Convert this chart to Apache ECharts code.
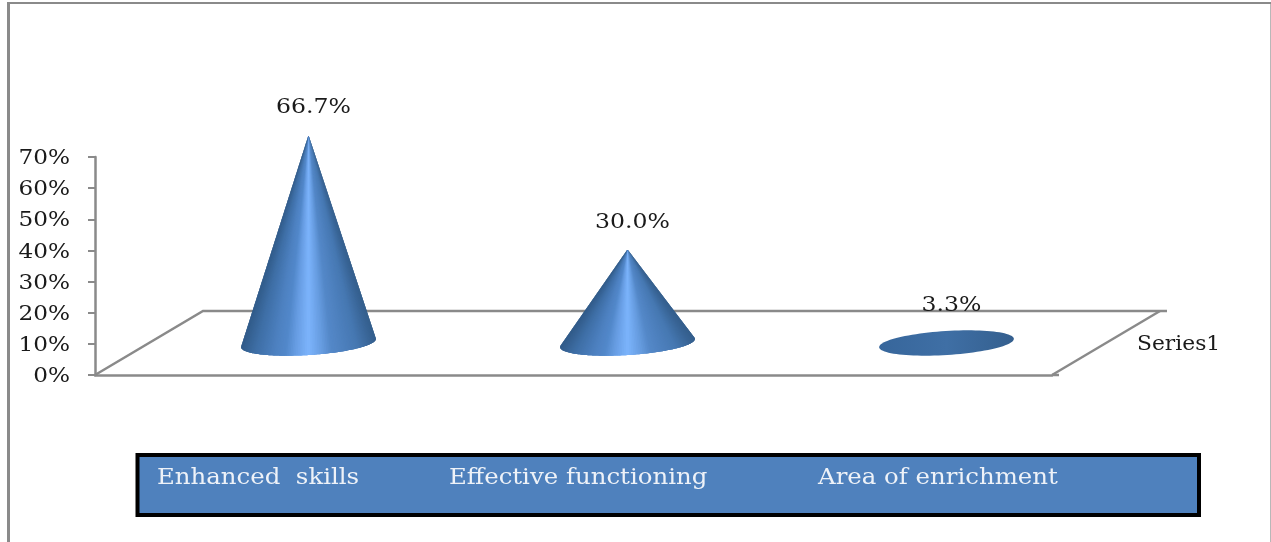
<!DOCTYPE html>
<html>
<head>
<meta charset="utf-8">
<style>html,body{margin:0;padding:0;background:#fff}#chart{width:1271px;height:542px}</style>
<script src="https://cdn.jsdelivr.net/npm/echarts@6/dist/echarts.min.js"></script>
</head>
<body>
<div id="chart"></div>
<script>
// Survey outcome shares, drawn as 3-D style cones on a perspective floor.
const categories = ['Enhanced  skills', 'Effective functioning', 'Area of enrichment'];
const shares = [66.7, 30.0, 3.3];
const yTicks = [0, 10, 20, 30, 40, 50, 60, 70];
const seriesName = 'Series1';

const SERIF = '"DejaVu Serif", serif';
const AXIS_GREY = '#8a8a8a';
const INK = '#1a1a1a';
const FLOOR_DX = 108, FLOOR_DY = -64;   // depth vector of the floor
const BASE_RX = 67.5, BASE_RY = 12, BASE_TILT = -3.6 * Math.PI / 180;
const ramp = [
  [0.00, [50, 92, 138]], [0.10, [62, 110, 165]], [0.26, [78, 130, 194]],
  [0.33, [82, 136, 202]], [0.40, [102, 156, 226]], [0.50, [124, 180, 252]],
  [0.60, [102, 156, 224]], [0.67, [84, 136, 200]], [0.86, [70, 120, 178]],
  [1.00, [52, 94, 140]]
];

function shade(t) {
  for (let i = 1; i < ramp.length; i++) {
    if (t <= ramp[i][0]) {
      const a = ramp[i - 1], b = ramp[i], k = (t - a[0]) / (b[0] - a[0]);
      return 'rgb(' + a[1].map((v, j) => Math.round(v + (b[1][j] - v) * k)).join(',') + ')';
    }
  }
  return 'rgb(' + ramp[ramp.length - 1][1].join(',') + ')';
}

function renderCone(params, api) {
  const value = api.value(1);
  const origin = api.coord([api.value(0), 0]);
  const top = api.coord([api.value(0), value]);
  const cx = origin[0] + FLOOR_DX / 2, cy = origin[1] + FLOOR_DY / 2;
  const ax = cx, ay = cy - (origin[1] - top[1]);
  const cos = Math.cos(BASE_TILT), sin = Math.sin(BASE_TILT);
  const onBase = (th) => {
    const x = BASE_RX * Math.cos(th), y = BASE_RY * Math.sin(th);
    return [cx + x * cos - y * sin, cy + x * sin + y * cos];
  };
  // apex expressed in the ellipse's unit-circle frame
  const dx = ax - cx, dy = ay - cy;
  const u = (dx * cos + dy * sin) / BASE_RX, v = (-dx * sin + dy * cos) / BASE_RY;
  const dist = Math.hypot(u, v);
  const children = [];

  if (dist <= 1) {
    // cone too short to rise past its own base: only a disc is visible
    const pts = [];
    for (let i = 0; i < 96; i++) pts.push(onBase(i / 96 * Math.PI * 2));
    children.push({
      type: 'polygon', shape: { points: pts },
      style: { fill: { type: 'linear', x: 0, y: 0, x2: 1, y2: 0, colorStops: [
        { offset: 0, color: '#37669b' }, { offset: 0.5, color: '#3f6fa5' }, { offset: 1, color: '#345f8e' }
      ] } }
    });
  } else {
    // fan of slices from the apex round the front of the base, running right to left;
    // each slice overlaps the next so no seams show between them
    const phi = Math.atan2(v, u), spread = Math.acos(1 / dist);
    const start = phi + spread, end = phi - spread + Math.PI * 2;
    const steps = 120;
    const at = (i) => onBase(start + (end - start) * Math.min(i, steps) / steps);
    for (let i = 0; i < steps; i++) {
      const p = at(i), q = at(i + 1), r = at(i + 2), s = at(i + 3);
      const t = ((p[0] + q[0]) / 2 - (cx - BASE_RX)) / (2 * BASE_RX);
      children.push({
        type: 'polygon', shape: { points: [[ax, ay], p, q, r, s] },
        style: { fill: shade(Math.min(1, Math.max(0, t))) }
      });
    }
  }
  children.push({
    type: 'text', x: cx + 5, y: ay - 27, scaleX: 1.18,
    style: {
      x: 0, y: 0, text: value.toFixed(1) + '%',
      fill: INK, font: '20px ' + SERIF, align: 'center', verticalAlign: 'middle'
    }
  });
  return { type: 'group', children };
}

// Floor parallelogram behind the cones, anchored to the axis scales.
function renderFloor(params, api) {
  const a = api.coord([0, 0]);
  const band = api.size([1, 0])[0];
  const w = band * categories.length;
  const left = a[0] - band / 2;
  const y = a[1];
  const style = { stroke: AXIS_GREY, lineWidth: 2.5, fill: 'none' };
  return {
    type: 'group', silent: true, children: [
      { type: 'polyline', shape: { points: [[left, y], [left + FLOOR_DX, y + FLOOR_DY], [left + w + FLOOR_DX + 7, y + FLOOR_DY]] }, style },
      { type: 'line', shape: { x1: left + w, y1: y, x2: left + w + FLOOR_DX, y2: y + FLOOR_DY }, style },
      { type: 'line', shape: { x1: left + w, y1: y, x2: left + w + 7, y2: y }, style }
    ]
  };
}

// Percentage tick labels, slightly widened, placed through the value axis.
function renderTick(params, api) {
  const p = api.coord([0, api.value(0)]);
  return {
    type: 'text', x: 70, y: p[1] + 2, scaleX: 1.16,
    style: {
      x: 0, y: 0, text: api.value(0) + '%', fill: INK,
      font: '20px ' + SERIF, align: 'right', verticalAlign: 'middle'
    }
  };
}

const chart = echarts.init(document.getElementById('chart'), null, { renderer: 'canvas' });

const LABEL_X = [157, 449, 818];
chart.setOption({
  animation: false,
  backgroundColor: '#fff',
  grid: { left: 95, top: 157, width: 957, height: 218, containLabel: false },
  xAxis: {
    type: 'category', data: categories,
    axisLine: { show: true, lineStyle: { color: AXIS_GREY, width: 2.5 } },
    axisTick: { show: false }, axisLabel: { show: false }
  },
  yAxis: {
    type: 'value', min: 0, max: 70, interval: 10,
    axisLine: { show: true, lineStyle: { color: AXIS_GREY, width: 2.5 } },
    axisTick: { show: true, length: 7, lineStyle: { color: AXIS_GREY, width: 2 } },
    splitLine: { show: false },
    axisLabel: { show: false }
  },
  series: [
    { type: 'custom', name: 'floor', renderItem: renderFloor, data: [[0, 0]], z: 1, clip: false, silent: true },
    { type: 'custom', name: 'ticks', renderItem: renderTick, data: yTicks.map((t) => [t]),
      encode: { y: 0 }, z: 3, clip: false, silent: true },
    { type: 'custom', name: seriesName, renderItem: renderCone, z: 2, clip: false,
      encode: { x: 0, y: 1 },
      data: categories.map((c, i) => [i, shares[i]]) }
  ],
  graphic: [
    { type: 'line', shape: { x1: 7, y1: 3, x2: 1271, y2: 3 }, style: { stroke: AXIS_GREY, lineWidth: 2 } },
    { type: 'line', shape: { x1: 8.5, y1: 3, x2: 8.5, y2: 542 }, style: { stroke: AXIS_GREY, lineWidth: 3 } },
    { type: 'line', shape: { x1: 1270.5, y1: 4, x2: 1270.5, y2: 542 }, style: { stroke: '#b8b8b8', lineWidth: 1 } },
    { type: 'rect', shape: { x: 137.5, y: 455, width: 1061.5, height: 60 },
      style: { fill: '#4f81bd', stroke: '#000', lineWidth: 4 } },
    ...categories.map((c, i) => ({
      type: 'text', x: LABEL_X[i], y: 478, scaleX: 1.11,
      style: { text: c, fill: '#eef2f8', font: '22px ' + SERIF, verticalAlign: 'middle' }
    })),
    { type: 'text', x: 1137, y: 345, scaleX: 1.09,
      style: { text: seriesName, fill: INK, font: '20px ' + SERIF, verticalAlign: 'middle' } }
  ]
});
</script>
</body>
</html>
